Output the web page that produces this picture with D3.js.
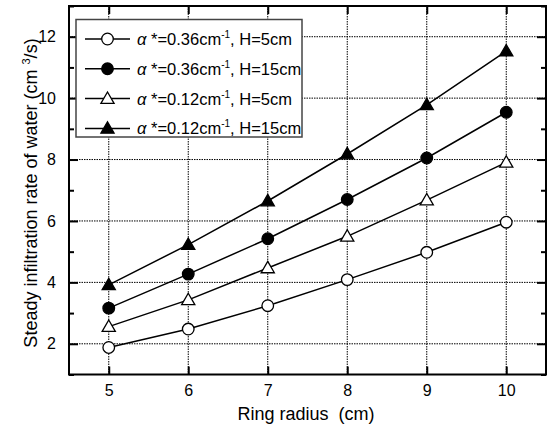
<!DOCTYPE html>
<html><head><meta charset="utf-8">
<script src="https://cdn.jsdelivr.net/npm/d3@7"></script>
<style>body{margin:0;background:#fff}svg{display:block}text{font-family:"Liberation Sans",Arial,sans-serif;fill:#000;white-space:pre}</style>
</head><body><div id="c"></div>
<script>
const radii = [5, 6, 7, 8, 9, 10];
const openCircle = [1.88, 2.48, 3.24, 4.09, 4.98, 5.96];
const filledCircle = [3.16, 4.27, 5.42, 6.70, 8.05, 9.54];
const openTriangle = [2.56, 3.43, 4.47, 5.50, 6.68, 7.91];
const filledTriangle = [3.92, 5.23, 6.65, 8.18, 9.78, 11.53];
const xTicks = [5, 6, 7, 8, 9, 10];
const yTicks = [2, 4, 6, 8, 10, 12];
const yMinor = [1, 3, 5, 7, 9, 11, 13];
const seriesAlpha = ["0.36", "0.36", "0.12", "0.12"];
const seriesH = ["5", "15", "5", "15"];

const series = [
  {values: openCircle, shape: "circle", fill: "#fff"},
  {values: filledCircle, shape: "circle", fill: "#000"},
  {values: openTriangle, shape: "triangle", fill: "#fff"},
  {values: filledTriangle, shape: "triangle", fill: "#000"}
].map((s, i) => ({...s, alpha: seriesAlpha[i], H: seriesH[i]}));

const W = 548, H = 425;
const L = 69, R = 546, T = 6, B = 374.5;
const FONT = '"Liberation Sans",Arial,sans-serif';
const svg = d3.select("#c").append("svg").attr("width", W).attr("height", H);
const x = d3.scaleLinear().domain([4.5, 10.5]).range([L, R]);
const y = d3.scaleLinear().domain([1, 13]).range([B, T]);

// gridlines
const grid = svg.append("g").attr("stroke", "#000").attr("stroke-width", 1).attr("stroke-dasharray", "1.5,1");
grid.selectAll(".gx").data(xTicks).join("line").attr("x1", d => x(d)).attr("x2", d => x(d)).attr("y1", T).attr("y2", B);
grid.selectAll(".gy").data(yTicks).join("line").attr("y1", d => y(d)).attr("y2", d => y(d)).attr("x1", L).attr("x2", R);

// axes with inward ticks
const axB = svg.append("g").attr("transform", `translate(0,${B})`)
  .call(d3.axisBottom(x).tickValues(xTicks).tickSizeInner(-8).tickSizeOuter(0).tickPadding(10).tickFormat(d3.format("d")));
const axT = svg.append("g").attr("transform", `translate(0,${T})`)
  .call(d3.axisTop(x).tickValues(xTicks).tickSizeInner(-8).tickSizeOuter(0).tickFormat(""));
const axL = svg.append("g").attr("transform", `translate(${L},0)`)
  .call(d3.axisLeft(y).tickValues(yTicks).tickSizeInner(-9).tickSizeOuter(0).tickPadding(13).tickFormat(d3.format("d")));
const axLm = svg.append("g").attr("transform", `translate(${L},0)`)
  .call(d3.axisLeft(y).tickValues(yMinor).tickSizeInner(-5).tickSizeOuter(0).tickFormat(""));
const axR = svg.append("g").attr("transform", `translate(${R},0)`)
  .call(d3.axisRight(y).tickValues(yTicks).tickSizeInner(-9).tickSizeOuter(0).tickFormat(""));
const axRm = svg.append("g").attr("transform", `translate(${R},0)`)
  .call(d3.axisRight(y).tickValues(yMinor).tickSizeInner(-5).tickSizeOuter(0).tickFormat(""));
[axB, axT, axL, axLm, axR, axRm].forEach(a => {
  a.select(".domain").remove();
  a.selectAll(".tick line").attr("stroke", "#000").attr("stroke-width", 2);
  a.selectAll("text").attr("font-size", 16).style("font-family", FONT);
});
// frame
svg.append("rect").attr("x", L).attr("y", T).attr("width", R - L).attr("height", B - T)
  .attr("fill", "none").attr("stroke", "#000").attr("stroke-width", 2);

// series
const line = d3.line().x((d, i) => x(radii[i])).y(d => y(d));
const tri = d3.symbol().type(d3.symbolTriangle).size(75);
function marker(g, s, cx, cy) {
  if (s.shape === "circle") {
    g.append("circle").attr("cx", cx).attr("cy", cy).attr("r", 5.8)
      .attr("fill", s.fill).attr("stroke", "#000").attr("stroke-width", 1.3);
  } else {
    g.append("path").attr("d", tri()).attr("transform", `translate(${cx},${cy + 1})`)
      .attr("fill", s.fill).attr("stroke", "#000").attr("stroke-width", 1.3);
  }
}
series.forEach(s => {
  svg.append("path").datum(s.values).attr("d", line).attr("fill", "none").attr("stroke", "#000").attr("stroke-width", 1.5);
});
series.forEach(s => {
  const g = svg.append("g");
  s.values.forEach((v, i) => marker(g, s, x(radii[i]), y(v)));
});

// legend
const lg = svg.append("g");
lg.append("rect").attr("x", 76).attr("y", 19.5).attr("width", 226).attr("height", 117.5)
  .attr("fill", "#fff").attr("stroke", "#444").attr("stroke-width", 1.5);
series.forEach((s, i) => {
  const cy = 39 + i * 29.8;
  lg.append("line").attr("x1", 85).attr("x2", 130).attr("y1", cy).attr("y2", cy).attr("stroke", "#000").attr("stroke-width", 1.5);
  marker(lg, s, 107.5, cy);
  const t = lg.append("text").attr("x", 137).attr("y", cy + 6).attr("font-size", 16.5);
  t.append("tspan").attr("font-style", "italic").text("α");
  t.append("tspan").text(" *=" + s.alpha + "cm");
  t.append("tspan").attr("font-size", 10).attr("dy", -7).text("-1");
  t.append("tspan").attr("dy", 7).text(", H=" + s.H + "cm");
});

// axis titles
svg.append("text").attr("x", 306).attr("y", 420).attr("text-anchor", "middle").attr("font-size", 18)
  .text("Ring radius  (cm)");
const yt = svg.append("text").attr("transform", `translate(37,193) rotate(-90)`).attr("text-anchor", "middle").attr("font-size", 18);
yt.append("tspan").text("Steady infiltration rate of water (cm ");
yt.append("tspan").attr("font-size", 11).attr("dy", -7).text("3");
yt.append("tspan").attr("dy", 7).text("/s)");
</script></body></html>
